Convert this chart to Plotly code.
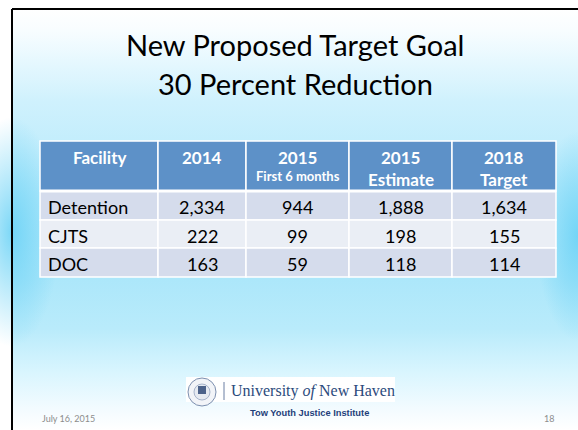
import base64
import plotly.graph_objects as go

W, H = 578, 430

# slide text
title_lines = ["New Proposed Target Goal", "30 Percent Reduction"]
header_main = ["Facility", "2014", "2015", "2015", "2018"]
header_sub = ["", "", "First 6 months", "Estimate", "Target"]
facilities = ["Detention", "CJTS", "DOC"]
y2014 = [2334, 222, 163]
y2015_half = [944, 99, 59]
y2015_est = [1888, 198, 118]
y2018_target = [1634, 155, 114]
footer_date = "July 16, 2015"
footer_org = "Tow Youth Justice Institute"
slide_number = "18"

# table geometry (pixels on the slide)
col_edges = [40, 158, 246, 349, 452, 556]
row_edges = [141, 191, 220, 248, 277]
header_color = "#5d91c8"
band_colors = ["#d5dcec", "#eaeef5"]
FONT = "Lato"

# background gradient as an svg image
bg_svg = f"""<svg xmlns='http://www.w3.org/2000/svg' width='{W}' height='{H}' viewBox='0 0 {W} {H}'>
<defs>
<linearGradient id='v' gradientUnits='userSpaceOnUse' x1='0' y1='9' x2='0' y2='{H}'>
<stop offset='0' stop-color='#ffffff'/>
<stop offset='0.05' stop-color='#f8fdff'/>
<stop offset='0.22' stop-color='#cff1fd'/>
<stop offset='0.45' stop-color='#b3e9fb'/>
<stop offset='0.64' stop-color='#ace7fa'/>
<stop offset='0.76' stop-color='#b9ebfb'/>
<stop offset='0.86' stop-color='#d8f5fe'/>
<stop offset='0.95' stop-color='#f3fbff'/>
<stop offset='1' stop-color='#ffffff'/>
</linearGradient>
<radialGradient id='e'>
<stop offset='0' stop-color='#6dd3f6' stop-opacity='0.9'/>
<stop offset='0.5' stop-color='#6dd3f6' stop-opacity='0.45'/>
<stop offset='1' stop-color='#6dd3f6' stop-opacity='0'/>
</radialGradient>
</defs>
<rect x='12' y='9' width='{W}' height='{H}' fill='url(#v)'/>
<ellipse cx='12' cy='232' rx='48' ry='115' fill='url(#e)'/>
<ellipse cx='{W}' cy='236' rx='42' ry='105' fill='url(#e)'/>
</svg>"""
bg_src = "data:image/svg+xml;base64," + base64.b64encode(bg_svg.encode()).decode()

fig = go.Figure()
fig.add_trace(go.Scatter(x=[0, W], y=[0, H], mode="markers", marker=dict(opacity=0),
                         hoverinfo="skip", showlegend=False))

shapes = []
annotations = []

# slide border (top and left)
shapes.append(dict(type="line", x0=12, x1=W, y0=9, y1=9, line=dict(color="black", width=2)))
shapes.append(dict(type="line", x0=12, x1=12, y0=9, y1=H, line=dict(color="black", width=2)))

# title
for i, line in enumerate(title_lines):
    annotations.append(dict(x=295, y=44 + i * 39.5, text=line, showarrow=False,
                            font=dict(family=FONT, size=29, color="black")))

# header cells
for c in range(5):
    shapes.append(dict(type="rect", x0=col_edges[c], x1=col_edges[c + 1],
                       y0=row_edges[0], y1=row_edges[1], fillcolor=header_color,
                       line=dict(color="white", width=1.5), layer="above"))
    xc = (col_edges[c] + col_edges[c + 1]) / 2
    annotations.append(dict(x=xc, y=157, text=f"<b>{header_main[c]}</b>", showarrow=False,
                            font=dict(family=FONT, size=17, color="white")))
    if header_sub[c]:
        small = header_sub[c] == "First 6 months"
        annotations.append(dict(x=xc, y=176 if small else 179, text=f"<b>{header_sub[c]}</b>",
                                showarrow=False,
                                font=dict(family=FONT, size=13 if small else 17, color="white")))

# body cells
rows = list(zip(facilities, y2014, y2015_half, y2015_est, y2018_target))
for r, row in enumerate(rows):
    y0, y1 = row_edges[r + 1], row_edges[r + 2]
    yc = (y0 + y1) / 2 + 1.5
    for c, val in enumerate(row):
        shapes.append(dict(type="rect", x0=col_edges[c], x1=col_edges[c + 1], y0=y0, y1=y1,
                           fillcolor=band_colors[r % 2], line=dict(color="white", width=1.5),
                           layer="above"))
        if c == 0:
            annotations.append(dict(x=col_edges[0] + 6, y=yc, text=val, showarrow=False,
                                    xanchor="left", font=dict(family=FONT, size=18, color="black")))
        else:
            annotations.append(dict(x=(col_edges[c] + col_edges[c + 1]) / 2, y=yc,
                                    text=f"{val:,}", showarrow=False,
                                    font=dict(family=FONT, size=18, color="black")))

# thicker white line under header
shapes.append(dict(type="line", x0=col_edges[0], x1=col_edges[-1], y0=row_edges[1], y1=row_edges[1],
                   line=dict(color="white", width=3), layer="above"))

# university logo block
shapes.append(dict(type="rect", x0=186, x1=395, y0=377, y1=402, fillcolor="white",
                   line=dict(width=0), layer="above"))
shapes.append(dict(type="circle", x0=188, x1=216, y0=378, y1=406, fillcolor="#f2f4f8",
                   line=dict(color="#7d90b0", width=1), layer="above"))
shapes.append(dict(type="circle", x0=194, x1=210, y0=384, y1=400, fillcolor="#e6eaf1",
                   line=dict(color="#95a5c0", width=0.8), layer="above"))
shapes.append(dict(type="rect", x0=198, x1=206, y0=386, y1=394, fillcolor="#4c628a",
                   line=dict(width=0), layer="above"))
shapes.append(dict(type="line", x0=224, x1=224, y0=382, y1=400,
                   line=dict(color="#6a7fa3", width=1), layer="above"))
annotations.append(dict(x=229, y=391, text="University <i>of</i> New Haven", showarrow=False,
                        xanchor="left",
                        font=dict(family="Liberation Serif", size=16, color="#2b4a7c")))
annotations.append(dict(x=309, y=413, text=f"<b>{footer_org}</b>", showarrow=False,
                        font=dict(family="Liberation Sans", size=9.3, color="#1f3f7a")))

# footer
annotations.append(dict(x=40, y=418, text=footer_date, showarrow=False, xanchor="left",
                        font=dict(family=FONT, size=9, color="#8c8c8c")))
annotations.append(dict(x=556, y=418, text=slide_number, showarrow=False, xanchor="right",
                        font=dict(family=FONT, size=9, color="#8c8c8c")))

fig.update_layout(
    width=W, height=H,
    margin=dict(l=0, r=0, t=0, b=0),
    paper_bgcolor="white", plot_bgcolor="rgba(0,0,0,0)",
    xaxis=dict(range=[0, W], visible=False, fixedrange=True),
    yaxis=dict(range=[H, 0], visible=False, fixedrange=True),
    shapes=shapes,
    annotations=annotations,
    images=[dict(source=bg_src, xref="paper", yref="paper", x=0, y=1, sizex=1, sizey=1,
                 xanchor="left", yanchor="top", sizing="stretch", layer="below")],
    showlegend=False,
)

fig.write_html("out.html", config={"displayModeBar": False},
               post_script="document.body.style.margin='0';")
